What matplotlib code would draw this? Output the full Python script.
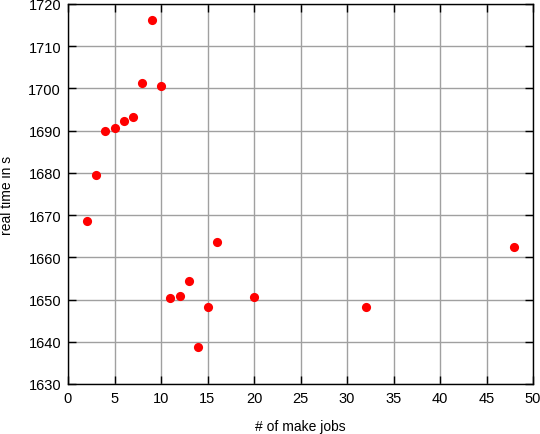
import matplotlib
matplotlib.use("Agg")
import matplotlib.pyplot as plt

jobs = [2, 3, 4, 5, 6, 7, 8, 9, 10, 11, 12, 13, 14, 15, 16, 20, 32, 48]
real_time = [1668.7, 1679.6, 1690.0, 1690.6, 1692.4, 1693.3, 1701.3, 1716.1, 1700.5,
             1650.4, 1650.8, 1654.4, 1638.7, 1648.2, 1663.6, 1650.5, 1648.2, 1662.4]

x_ticks = list(range(0, 51, 5))
y_ticks = list(range(1630, 1721, 10))

plt.rcParams['font.family'] = ['Liberation Sans', 'DejaVu Sans']
plt.rcParams['font.size'] = 10.5

fig = plt.figure(figsize=(5.4, 4.35), dpi=100)
ax = fig.add_axes([68 / 540, 1 - 385 / 435, (533 - 68) / 540, (385 - 5) / 435])

ax.plot(jobs, real_time, 'o', color='#ff0000', markersize=6.6, markeredgewidth=0, zorder=3)

ax.set_xlim(0, 50)
ax.set_ylim(1630, 1720)
ax.set_xticks(x_ticks)
ax.set_yticks(y_ticks)
ax.grid(True, color='#a0a0a0', linewidth=1)
ax.tick_params(direction='in', length=6, width=1, pad=5, top=True, right=True, colors='black')
for s in ax.spines.values():
    s.set_linewidth(1)
    s.set_color('black')

ax.set_xlabel('# of make jobs', fontsize=10)
ax.set_ylabel('real time in s', fontsize=10)
# label spots, in axes units
ax.xaxis.set_label_coords(0.5, -0.093)
ax.yaxis.set_label_coords(-0.117, 0.5)

fig.savefig('out.png', dpi=100)
